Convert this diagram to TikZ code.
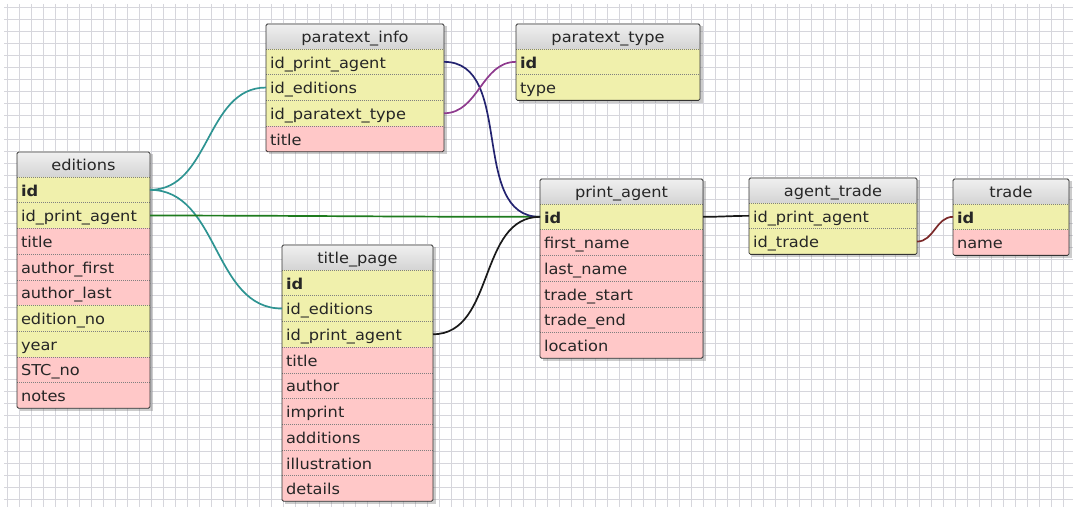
\documentclass[tikz,border=0pt]{standalone}
\usepackage{fontspec}
\setmainfont{DejaVu Sans}[FakeStretch=1.08]
\usetikzlibrary{positioning,fit,shadows,backgrounds}

\definecolor{keyfill}{RGB}{240,240,172}
\definecolor{colfill}{RGB}{255,200,200}
\definecolor{gridcol}{RGB}{214,214,220}
\definecolor{edlink}{RGB}{46,148,146}
\definecolor{aglink}{RGB}{30,123,30}
\definecolor{palink}{RGB}{35,35,112}
\definecolor{ptlink}{RGB}{142,58,142}
\definecolor{trlink}{RGB}{122,40,40}

\begin{document}
\begin{tikzpicture}[x=1pt, y=-1pt]

\tikzstyle{cell} = [anchor=north west, outer sep=0pt, inner xsep=4pt, inner ysep=0pt,
  minimum height=25.7pt, text height=12.5pt, text depth=0pt, align=left,
  font=\fontsize{15}{18}\selectfont, text=black!85,
  path picture={\draw[black!50, line width=0.5pt, dash pattern=on 1pt off 1pt]
    (path picture bounding box.north west) -- (path picture bounding box.north east);}]
\tikzstyle{key} = [cell, fill=keyfill]
\tikzstyle{col} = [cell, fill=colfill]
\tikzstyle{head} = [anchor=north west, outer sep=0pt, inner xsep=4pt, inner ysep=0pt,
  minimum height=25pt, text height=12.5pt, text depth=0pt, align=center,
  font=\fontsize{15}{18}\selectfont, text=black!85,
  top color=black!6, bottom color=black!17]
\tikzstyle{box} = [draw=black!80, line width=0.8pt, rounded corners=1.5pt, inner sep=0pt]
\tikzstyle{shade} = [fill=white, inner sep=0pt,
  drop shadow={shadow xshift=2.5pt, shadow yshift=-2.5pt, opacity=0.4}]
\tikzstyle{link} = [line width=1.7pt, out=0, in=180]
\tikzstyle{paper} = [draw=gridcol, line width=0.9pt]

\useasboundingbox (0,0) rectangle (1076,510);

% squared paper
\begin{scope}[on background layer]
  \foreach \x in {7,19,...,1071} \draw[paper] (\x,4) -- (\x,507);
  \foreach \y in {7,19,...,506} \draw[paper] (4,\y) -- (1073,\y);
\end{scope}

% editions
\node[head, text width=125pt](ed)at(17,152){editions};
\node[key, text width=125pt, below=0pt of ed](ed-id){\textbf{id}};
\node[key, text width=125pt, below=0pt of ed-id](ed-pa){id\_print\_agent};
\node[col, text width=125pt, below=0pt of ed-pa](ed-title){title};
\node[col, text width=125pt, below=0pt of ed-title](ed-af){author\_first};
\node[col, text width=125pt, below=0pt of ed-af](ed-al){author\_last};
\node[key, text width=125pt, below=0pt of ed-al](ed-no){edition\_no};
\node[key, text width=125pt, below=0pt of ed-no](ed-year){year};
\node[col, text width=125pt, below=0pt of ed-year](ed-stc){STC\_no};
\node[col, text width=125pt, below=0pt of ed-stc](ed-notes){notes};

% paratext_info
\node[head, text width=170pt](pi)at(266,24){paratext\_info};
\node[key, text width=170pt, below=0pt of pi](pi-pa){id\_print\_agent};
\node[key, text width=170pt, below=0pt of pi-pa](pi-ed){id\_editions};
\node[key, text width=170pt, below=0pt of pi-ed](pi-pt){id\_paratext\_type};
\node[col, text width=170pt, below=0pt of pi-pt](pi-title){title};

% paratext_type
\node[head, text width=176pt](pt)at(516,24){paratext\_type};
\node[key, text width=176pt, below=0pt of pt](pt-id){\textbf{id}};
\node[key, text width=176pt, below=0pt of pt-id](pt-type){type};

% title_page
\node[head, text width=143pt](tp)at(282,245){title\_page};
\node[key, text width=143pt, below=0pt of tp](tp-id){\textbf{id}};
\node[key, text width=143pt, below=0pt of tp-id](tp-ed){id\_editions};
\node[key, text width=143pt, below=0pt of tp-ed](tp-pa){id\_print\_agent};
\node[col, text width=143pt, below=0pt of tp-pa](tp-title){title};
\node[col, text width=143pt, below=0pt of tp-title](tp-author){author};
\node[col, text width=143pt, below=0pt of tp-author](tp-imprint){imprint};
\node[col, text width=143pt, below=0pt of tp-imprint](tp-add){additions};
\node[col, text width=143pt, below=0pt of tp-add](tp-ill){illustration};
\node[col, text width=143pt, below=0pt of tp-ill](tp-det){details};

% print_agent
\node[head, text width=155pt](pa)at(540,179){print\_agent};
\node[key, text width=155pt, below=0pt of pa](pa-id){\textbf{id}};
\node[col, text width=155pt, below=0pt of pa-id](pa-first){first\_name};
\node[col, text width=155pt, below=0pt of pa-first](pa-last){last\_name};
\node[col, text width=155pt, below=0pt of pa-last](pa-start){trade\_start};
\node[col, text width=155pt, below=0pt of pa-start](pa-end){trade\_end};
\node[col, text width=155pt, below=0pt of pa-end](pa-loc){location};

% agent_trade
\node[head, text width=160pt](at)at(749,178){agent\_trade};
\node[key, text width=160pt, below=0pt of at](at-pa){id\_print\_agent};
\node[key, text width=160pt, below=0pt of at-pa](at-tr){id\_trade};

% trade
\node[head, text width=108pt](tr)at(953,179){trade};
\node[key, text width=108pt, below=0pt of tr](tr-id){\textbf{id}};
\node[col, text width=108pt, below=0pt of tr-id](tr-name){name};

% shadows under the tables, frames over them
\begin{scope}[on background layer]
\node[shade, fit=(ed)(ed-notes)](ed-sh){};
\node[shade, fit=(pi)(pi-title)](pi-sh){};
\node[shade, fit=(pt)(pt-type)](pt-sh){};
\node[shade, fit=(tp)(tp-det)](tp-sh){};
\node[shade, fit=(pa)(pa-loc)](pa-sh){};
\node[shade, fit=(at)(at-tr)](at-sh){};
\node[shade, fit=(tr)(tr-name)](tr-sh){};
\end{scope}
\node[box, fit=(ed)(ed-notes)](ed-box){};
\node[box, fit=(pi)(pi-title)](pi-box){};
\node[box, fit=(pt)(pt-type)](pt-box){};
\node[box, fit=(tp)(tp-det)](tp-box){};
\node[box, fit=(pa)(pa-loc)](pa-box){};
\node[box, fit=(at)(at-tr)](at-box){};
\node[box, fit=(tr)(tr-name)](tr-box){};

% relations
\draw[link, edlink](ed-id.east) to (pi-ed.west);
\draw[link, edlink](ed-id.east) to (tp-ed.west);
\draw[link, aglink](ed-pa.east) to (pa-id.west);
\draw[link, palink](pi-pa.east) to (pa-id.west);
\draw[link, ptlink](pi-pt.east) to (pt-id.west);
\draw[link, black!90](tp-pa.east) to (pa-id.west);
\draw[link, black!90](pa-id.east) to (at-pa.west);
\draw[link, trlink](at-tr.east) to (tr-id.west);

\end{tikzpicture}
\end{document}
